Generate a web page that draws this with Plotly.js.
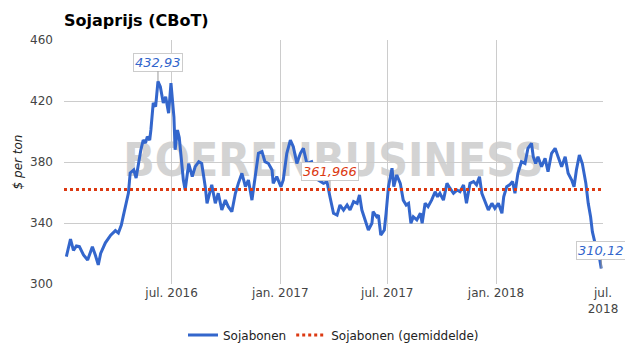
<!DOCTYPE html>
<html>
<head>
<meta charset="utf-8">
<script src="https://cdn.plot.ly/plotly-3.0.1.min.js"></script>
<style>
html,body{margin:0;padding:0;background:#fff;}
#chart{width:625px;height:355px;}
</style>
</head>
<body>
<div id="chart"></div>
<script>
const dates = [
"2016-01-05","2016-01-12","2016-01-17","2016-01-22","2016-01-27","2016-02-03","2016-02-10","2016-02-18","2016-02-23","2016-02-28",
"2016-03-03","2016-03-11","2016-03-20","2016-03-28","2016-04-02","2016-04-07","2016-04-10","2016-04-14","2016-04-19","2016-04-22",
"2016-04-28","2016-05-02","2016-05-06","2016-05-10","2016-05-14","2016-05-18","2016-05-21","2016-05-25","2016-05-27","2016-05-31",
"2016-06-04","2016-06-08","2016-06-12","2016-06-17","2016-06-21","2016-06-26","2016-06-30","2016-07-05","2016-07-07","2016-07-11",
"2016-07-14","2016-07-17","2016-07-21","2016-07-24","2016-07-30","2016-08-05","2016-08-10","2016-08-16","2016-08-21","2016-08-27",
"2016-08-30","2016-09-07","2016-09-13","2016-09-18","2016-09-24","2016-09-30","2016-10-05","2016-10-11","2016-10-17","2016-10-22",
"2016-10-28","2016-11-03","2016-11-08","2016-11-14","2016-11-20","2016-11-25","2016-12-01","2016-12-06","2016-12-12","2016-12-18",
"2016-12-20","2016-12-26","2017-01-02","2017-01-06","2017-01-12","2017-01-18","2017-01-23","2017-01-29","2017-02-04","2017-02-09",
"2017-02-15","2017-02-23","2017-03-01","2017-03-06","2017-03-15","2017-03-21","2017-03-26","2017-04-01","2017-04-07","2017-04-12",
"2017-04-18","2017-04-24","2017-04-29","2017-05-05","2017-05-11","2017-05-15","2017-05-19","2017-05-25","2017-05-30","2017-06-05",
"2017-06-07","2017-06-13","2017-06-16","2017-06-20","2017-06-26","2017-06-29","2017-07-03","2017-07-09","2017-07-12","2017-07-17",
"2017-07-23","2017-07-28","2017-08-02","2017-08-06","2017-08-10","2017-08-14","2017-08-20","2017-08-26","2017-08-29","2017-09-03",
"2017-09-08","2017-09-14","2017-09-20","2017-09-24","2017-09-28","2017-10-04","2017-10-10","2017-10-15","2017-10-21","2017-10-27",
"2017-11-01","2017-11-07","2017-11-12","2017-11-18","2017-11-24","2017-11-29","2017-12-04","2017-12-08","2017-12-13","2017-12-19",
"2017-12-25","2017-12-30","2018-01-05","2018-01-11","2018-01-14","2018-01-19","2018-01-24","2018-01-29","2018-02-02","2018-02-07",
"2018-02-13","2018-02-19","2018-02-24","2018-03-02","2018-03-05","2018-03-09","2018-03-13","2018-03-19","2018-03-25","2018-03-30",
"2018-04-05","2018-04-11","2018-04-16","2018-04-22","2018-04-28","2018-05-03","2018-05-09","2018-05-13","2018-05-17","2018-05-22",
"2018-05-27","2018-06-02","2018-06-06","2018-06-10","2018-06-13","2018-06-17","2018-06-21","2018-06-24","2018-06-28"
];
const prices = [
318,329.5,322,325,324.5,319,315.7,324.5,319,312.5,
320,327,332,335,333.4,338.7,344,351.8,359.6,372.8,
374.8,369.5,379.3,387.9,394.4,392.5,396.6,394.4,401,418.7,
416.3,432.93,429.4,418.7,422.8,412,431.8,409.5,388,401,
396,383.5,368,361.6,379,370.4,377,380.2,379,363.8,
352.9,365,352.9,359.5,348.5,355,350.7,347.4,359.5,366,
372.6,363.8,368.2,355,370.4,385.7,386.8,380.2,379,374.8,
366,370.4,363.8,368.2,385.7,394.4,390,379,385.7,389,
379,380.2,372,368.2,366,367,357.2,346.4,345.2,351.8,
348.5,351.8,348.5,354,352.9,358.4,348.5,340.9,335.4,339.8,
347.4,344.1,345.2,332.1,335.4,346.4,363.8,375.9,363.8,371.5,
366,355,351.8,352.9,339.8,344.1,342,346.4,339.8,352.9,
350.7,355,360.5,357.2,359.5,355,366,362.8,359.5,361.6,
360.5,365,352.9,366,367.2,365,370.4,359.5,355,348.5,
352.9,349.6,352.9,346.4,357.2,363.8,365,367.2,359.5,372.6,
380.2,379,389,392.3,383.5,379,383.5,376.9,382.4,373.7,
385.7,389,383.5,376.9,383.5,372.6,368.2,363.8,374.8,384.6,
379,366,352.9,344.1,334.3,327.7,326.7,320.1,310.12
];
const meanValue = 361.966;
const meanDates = ["2016-01-01","2018-07-01"];
const peakDate = "2016-06-08", peakValue = 432.93;
const meanLabelDate = "2017-03-26";
const tickDates = ["2016-07-01","2017-01-01","2017-07-01","2018-01-01","2018-07-01"];
const tickLabels = ["jul. 2016","jan. 2017","jul. 2017","jan. 2018","jul.<br>2018"];
const yTicks = [300,340,380,420,460];

const FONT = "DejaVu Sans, sans-serif";
const fmt = v => String(v).replace(".", ",");

const traces = [
  {x: dates, y: prices, type: "scatter", mode: "lines", name: "Sojabonen",
   line: {color: "#3366cc", width: 3}, hoverinfo: "skip"},
  {x: meanDates, y: [meanValue, meanValue], type: "scatter", mode: "lines",
   name: "Sojabonen (gemiddelde)", line: {color: "#dc3912", width: 3, dash: "dot"}, hoverinfo: "skip"}
];

const annBase = {xref: "x", yref: "y", showarrow: true, arrowhead: 0, arrowwidth: 1,
  arrowcolor: "#999", ax: 0, ay: -19, bgcolor: "#fff", bordercolor: "#ccc", borderwidth: 1, borderpad: 1};

const layout = {
  width: 625, height: 355,
  margin: {l: 64, r: 22, t: 40, b: 71, autoexpand: false},
  paper_bgcolor: "#fff", plot_bgcolor: "#fff",
  font: {family: FONT, size: 12, color: "#222"},
  title: {text: "Sojaprijs (CBoT)", x: 64/625, xanchor: "left", xref: "container", y: 1 - 20/355, yanchor: "middle",
          yref: "container", font: {family: FONT, size: 16, weight: "bold", color: "#000"}},
  xaxis: {type: "date", range: ["2016-01-01", "2018-07-01"], tickvals: tickDates, ticktext: tickLabels,
          showgrid: true, gridcolor: "#ccc", gridwidth: 1, zeroline: false, showline: false, ticks: "",
          tickfont: {family: FONT, size: 12, color: "#444"}, fixedrange: true},
  yaxis: {range: [300, 460], tickvals: yTicks, ticktext: yTicks.map(String), showgrid: true, gridcolor: "#ccc",
          zeroline: false, showline: false, ticks: "", ticklabelstandoff: 10,
          tickfont: {family: FONT, size: 12, color: "#444"},
          title: {text: "$ per ton", standoff: 4, font: {family: FONT, size: 12, style: "italic", color: "#222"}},
          fixedrange: true},
  showlegend: true,
  legend: {orientation: "h", x: 0.5, xanchor: "center", y: -51/244, yanchor: "middle",
           font: {family: FONT, size: 12, color: "#222"}, itemwidth: 30},
  shapes: [
    {type: "rect", xref: "paper", yref: "paper", x0: 0, x1: 1, y0: 0.36, y1: 0.68, layer: "below",
     line: {width: 0}, fillcolor: "rgba(0,0,0,0)",
     label: {text: "<b>BOERENBUSINESS</b>", textposition: "middle center",
             font: {family: "Liberation Sans Narrow, DejaVu Sans Condensed, sans-serif", size: 46, color: "#d3d3d3"}}}
  ],
  annotations: [
    Object.assign({}, annBase, {x: peakDate, y: peakValue, text: fmt(peakValue),
      font: {family: FONT, size: 13, style: "italic", color: "#3366cc"}}),
    Object.assign({}, annBase, {x: meanLabelDate, y: meanValue, ay: -18, text: fmt(meanValue),
      font: {family: FONT, size: 13, style: "italic", color: "#dc3912"}}),
    Object.assign({}, annBase, {x: dates[dates.length-1], y: prices[prices.length-1], ay: -18,
      text: fmt(prices[prices.length-1]),
      font: {family: FONT, size: 13, style: "italic", color: "#3366cc"}})
  ]
};

Plotly.newPlot("chart", traces, layout, {displayModeBar: false, staticPlot: true});
</script>
</body>
</html>
